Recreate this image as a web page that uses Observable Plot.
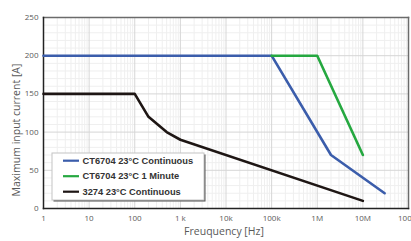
<!DOCTYPE html>
<html>
<head>
<meta charset="utf-8">
<script src="https://cdn.jsdelivr.net/npm/d3@7"></script>
<script src="https://cdn.jsdelivr.net/npm/@observablehq/plot@0.6"></script>
<style>
html,body{margin:0;padding:0;background:#fff;}
svg{display:block;}
</style>
</head>
<body>
<div id="chart"></div>
<script>
const xTicks = [1, 10, 100, 1e3, 1e4, 1e5, 1e6, 1e7, 1e8];
const xTickLabels = ["1", "10", "100", "1 k", "10k", "100k", "1M", "10M", "100M"];
const yTicks = [0, 50, 100, 150, 200, 250];

const contFreq = [1, 1e5, 2e6, 3e7];
const contCurrent = [200, 200, 70, 20];
const minuteFreq = [1e5, 1e6, 1e7];
const minuteCurrent = [200, 200, 70];
const c3274Freq = [1, 100, 200, 500, 1000, 1e7];
const c3274Current = [150, 150, 120, 100, 90, 10];

const seriesNames = ["CT6704 23°C Continuous", "CT6704 23°C 1 Minute", "3274 23°C Continuous"];
const seriesColors = ["#3b5dab", "#25a840", "#1e1614"];

const toRows = (f, v) => f.map((d, i) => ({f: d, v: v[i]}));
const cont = toRows(contFreq, contCurrent);
const minute = toRows(minuteFreq, minuteCurrent);
const c3274 = toRows(c3274Freq, c3274Current);

const minorX = [];
for (let e = 0; e < 8; e++) for (let m = 2; m <= 9; m++) minorX.push(m * 10 ** e);
const minorY = d3.range(0, 251, 10).filter(d => d % 50 !== 0);

const W = 411, H = 241, ML = 43, MR = 3, MT = 17, MB = 33;
const labelFont = "'Open Sans', 'Noto Sans', sans-serif";

const plot = Plot.plot({
  width: W, height: H,
  marginLeft: ML, marginRight: MR, marginTop: MT, marginBottom: MB,
  style: {fontFamily: labelFont, fontSize: "8px", color: "#595959", background: "#fff"},
  x: {type: "log", domain: [1, 1e8], label: null, axis: null},
  y: {domain: [0, 250], label: null, axis: null},
  marks: [
    Plot.ruleX(minorX, {stroke: "#efefef", strokeWidth: 1}),
    Plot.ruleY(minorY, {stroke: "#efefef", strokeWidth: 1}),
    Plot.ruleX(xTicks, {stroke: "#d6d6d6", strokeWidth: 1}),
    Plot.ruleY(yTicks, {stroke: "#d6d6d6", strokeWidth: 1}),
    Plot.axisX(xTicks, {tickSize: 0, tickPadding: 7, tickFormat: (d) => xTickLabels[xTicks.indexOf(d)], fill: "#595959", fontSize: 8, label: null}),
    Plot.axisY(yTicks, {tickSize: 0, tickPadding: 5, fill: "#595959", fontSize: 8, label: null}),
    Plot.frame({anchor: "top", stroke: "#6b6b6b", strokeWidth: 1.5}),
    Plot.frame({anchor: "right", stroke: "#6b6b6b", strokeWidth: 1.5}),
    Plot.frame({anchor: "left", stroke: "#222", strokeWidth: 1.5}),
    Plot.frame({anchor: "bottom", stroke: "#222", strokeWidth: 1.5}),
    Plot.line(c3274, {x: "f", y: "v", stroke: seriesColors[2], strokeWidth: 2.6}),
    Plot.line(cont, {x: "f", y: "v", stroke: seriesColors[0], strokeWidth: 2.6}),
    Plot.line(minute, {x: "f", y: "v", stroke: seriesColors[1], strokeWidth: 2.6}),
    Plot.text(["Freuquency [Hz]"], {frameAnchor: "bottom", dy: 26, dx: -2, fontSize: 10.5, fill: "#595959", fontFamily: labelFont}),
    Plot.text(["Maximum input current [A]"], {frameAnchor: "left", textAnchor: "middle", rotate: -90, dx: -27, dy: 17, fontSize: 10.5, fill: "#595959", fontFamily: labelFont})
  ]
});

document.getElementById("chart").appendChild(plot);

// legend
const svg = d3.select(plot);
const lg = svg.append("g").attr("text-anchor", "start");
const lx = 52, ly = 153, lw = 152, lh = 47;
lg.append("rect").attr("x", lx + 1.5).attr("y", ly + 1.5).attr("width", lw).attr("height", lh).attr("fill", "#555");
lg.append("rect").attr("x", lx).attr("y", ly).attr("width", lw).attr("height", lh).attr("fill", "#fff").attr("stroke", "#c4c4c4").attr("stroke-width", 1);
seriesNames.forEach((name, i) => {
  const cy = 160.7 + i * 15.5;
  lg.append("line").attr("x1", 63).attr("x2", 79).attr("y1", cy).attr("y2", cy)
    .attr("stroke", seriesColors[i]).attr("stroke-width", 2.2);
  lg.append("text").attr("x", 82.5).attr("y", cy).attr("dy", "0.35em")
    .attr("text-anchor", "start")
    .attr("font-family", "'Liberation Sans', Arial, sans-serif").attr("font-weight", "bold")
    .attr("font-size", 9.3).attr("fill", "#333").text(name);
});
</script>
</body>
</html>
